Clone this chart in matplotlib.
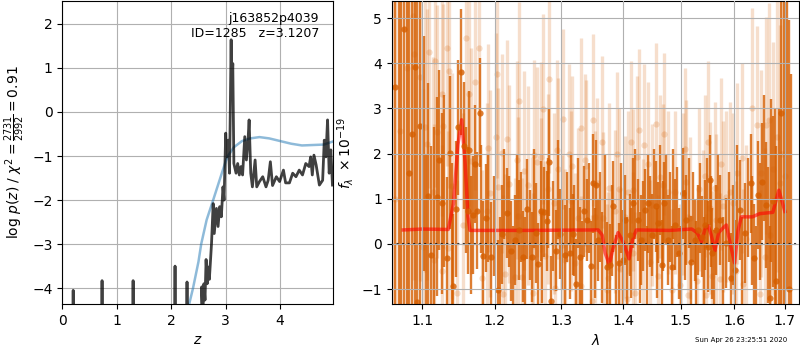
import numpy as np
import matplotlib
matplotlib.use("Agg")
import matplotlib.pyplot as plt

# redshift probability, log p(z)
z_grid = [0.00, 0.19, 0.20, 0.21, 0.72, 0.73, 0.74, 1.29, 1.30, 1.31, 2.06, 2.07, 2.08,
          2.28, 2.29, 2.30, 2.55, 2.56, 2.58, 2.60, 2.62, 2.64, 2.66, 2.68, 2.70, 2.74,
          2.77, 2.79, 2.83, 2.86, 2.89, 2.92, 2.95, 2.97, 3.00, 3.02, 3.05, 3.07, 3.10,
          3.11, 3.13, 3.15, 3.19, 3.22, 3.25, 3.28, 3.31, 3.35, 3.38, 3.41, 3.43, 3.46,
          3.49, 3.54, 3.57, 3.62, 3.68, 3.74, 3.78, 3.82, 3.86, 3.93, 3.99, 4.06, 4.10,
          4.17, 4.23, 4.29, 4.35, 4.41, 4.47, 4.53, 4.56, 4.59, 4.62, 4.66, 4.72, 4.78,
          4.81, 4.84, 4.87, 4.90, 4.93, 4.96]
log_pz = [-8.0, -8.0, -4.05, -8.0, -8.0, -3.83, -8.0, -8.0, -3.83, -8.0, -8.0, -3.50, -8.0,
          -8.0, -3.86, -8.0, -8.0, -3.97, -4.6, -3.90, -4.27, -3.35, -3.90, -3.52, -3.80, -2.98,
          -2.08, -2.76, -2.19, -2.60, -2.15, -2.38, -1.70, -2.00, -0.48, -1.02, -0.64, -1.39, 1.64,
          0.42, 1.10, -1.17, -1.39, -1.17, -1.43, -1.24, -1.43, -0.56, -1.09, -0.64, -0.18, -1.39,
          -1.70, -1.09, -1.70, -1.58, -1.47, -1.70, -1.55, -1.13, -1.67, -1.47, -1.58, -1.32, -1.61,
          -1.61, -1.39, -1.47, -1.32, -1.43, -1.17, -1.24, -1.02, -1.43, -0.98, -1.20, -1.66, -1.55,
          -0.64, -1.02, -0.18, -1.39, -0.86, -1.66]

# scaled chi-squared curve
z_chi2 = [2.20, 2.33, 2.40, 2.50, 2.55, 2.65, 2.77, 2.90, 3.00, 3.04, 3.15, 3.30, 3.45,
          3.62, 3.80, 4.00, 4.20, 4.40, 4.60, 4.80, 4.97]
chi2_scaled = [-5.2, -4.36, -4.00, -3.40, -3.00, -2.45, -2.00, -1.50, -1.12, -1.00, -0.80,
               -0.66, -0.60, -0.57, -0.60, -0.66, -0.72, -0.76, -0.75, -0.74, -0.67]

# spectrum, strong set (points with visible markers)
wave_a = [1.0605, 1.0646, 1.0690, 1.0725, 1.0765, 1.0800, 1.0826, 1.0869, 1.0908, 1.0934,
          1.0970, 1.1072, 1.1111, 1.1192, 1.1227, 1.1259, 1.1327, 1.1372, 1.1417, 1.1458,
          1.1485, 1.1523, 1.1568, 1.1615, 1.1638, 1.1694, 1.1718, 1.1741, 1.1788, 1.1835,
          1.1869, 1.1944, 1.2049, 1.2107, 1.2171, 1.2230, 1.2293, 1.2357, 1.2407, 1.2476,
          1.2551, 1.2607, 1.2642, 1.2683, 1.2728, 1.2770, 1.2810, 1.2836, 1.2913, 1.2975,
          1.3053, 1.3132, 1.3174, 1.3231, 1.3290, 1.3359, 1.3398, 1.3462, 1.3504, 1.3548,
          1.3585, 1.3723, 1.3777, 1.3832, 1.3922, 1.3999, 1.4027, 1.4112, 1.4168, 1.4243,
          1.4311, 1.4380, 1.4425, 1.4484, 1.4559, 1.4599, 1.4659, 1.4705, 1.4776, 1.4836,
          1.4895, 1.4972, 1.5044, 1.5105, 1.5183, 1.5256, 1.5317, 1.5398, 1.5453, 1.5502,
          1.5533, 1.5584, 1.5659, 1.5734, 1.5848, 1.5943, 1.6006, 1.6103, 1.6200, 1.6317,
          1.6382, 1.6460, 1.6548, 1.6613, 1.6693, 1.6759, 1.6828, 1.6929, 1.6990, 1.7040,
          1.7080, 1.7134]
flux_a = [-2.5, 3.47, 6.5, -2.0, 4.75, 6.0, 1.57, 2.43, 3.92, -1.28,
          2.61, 1.06, -0.24, 1.05, 1.86, 0.90, -0.32, 2.02, -0.94, 0.77,
          2.58, 3.81, 2.18, 0.74, 2.08, 0.64, 1.77, 0.74, 2.91, -0.26,
          0.57, -0.28, -1.02, 0.21, 0.68, -0.16, 0.09, 0.31, -0.28, 0.77,
          -0.29, 0.24, -0.44, 0.73, 0.70, 0.51, 1.82, -1.26, -0.15, 0.22,
          -0.24, -0.21, 0.21, -0.89, -0.28, 0.72, 0.53, -0.49, 1.34, 1.31,
          0.09, -0.52, -0.46, 0.83, -0.43, -0.35, 0.53, 0.20, 0.90, 0.53,
          0.09, 0.75, 0.90, 0.20, 0.83, 0.47, -0.46, 0.91, 0.09, -0.50,
          0.43, -0.21, 1.12, 0.53, -0.39, 0.09, 0.31, 0.16, 0.42, -0.06,
          1.41, -0.21, 0.31, 0.53, 0.02, -0.76, -0.58, 0.75, 0.24, 1.34,
          -0.32, 1.09, 1.38, 0.86, -1.20, 0.94, -0.82, 2.91, -2.0, 6.0,
          -1.0, -1.5]
err_a = [8.5, 8.0, 8.5, 8.0, 7.5, 8.0, 7.0, 6.5, 6.0, 7.0,
         5.5, 2.5, 2.4, 2.2, 2.0, 2.0, 1.8, 1.7, 1.6, 1.5,
         1.5, 1.4, 1.4, 1.4, 1.3, 1.3, 1.3, 1.3, 1.2, 1.2,
         1.2, 1.2, 1.1, 1.1, 1.0, 1.1, 1.0, 1.1, 1.0, 1.1,
         1.0, 1.1, 0.9, 1.1, 1.0, 1.1, 1.2, 1.0, 0.9, 1.0,
         1.1, 1.0, 0.9, 1.0, 1.1, 1.0, 0.9, 1.0, 1.1, 1.0,
         0.9, 1.0, 0.9, 1.0, 0.9, 1.1, 1.0, 0.9, 1.0, 0.9,
         1.0, 0.9, 1.1, 0.9, 1.0, 0.9, 1.0, 0.9, 1.0, 0.9,
         1.0, 1.0, 1.0, 1.0, 1.0, 0.9, 1.0, 0.9, 1.0, 1.0,
         1.0, 1.0, 1.0, 1.0, 1.0, 1.0, 1.1, 1.1, 1.1, 1.1,
         1.2, 1.2, 1.3, 1.4, 1.6, 1.9, 3.0, 6.0, 7.5, 7.0,
         5.95, 5.27]

# strong set, bars whose markers are hidden in the crowd
wave_a_fill = [1.1020, 1.1050, 1.1150, 1.1290, 1.1395, 1.1595, 1.1665, 1.1810, 1.1905, 1.1995,
               1.2078, 1.2140, 1.2200, 1.2262, 1.2325, 1.2382, 1.2441, 1.2513, 1.2579, 1.2705,
               1.2790, 1.2875, 1.2944, 1.3014, 1.3092, 1.3153, 1.3202, 1.3260, 1.3325, 1.3430,
               1.3526, 1.3620, 1.3655, 1.3690, 1.3805, 1.3877, 1.3961, 1.4070, 1.4140, 1.4205,
               1.4277, 1.4345, 1.4402, 1.4455, 1.4520, 1.4579, 1.4629, 1.4682, 1.4740, 1.4806,
               1.4866, 1.4933, 1.5008, 1.5075, 1.5144, 1.5220, 1.5287, 1.5357, 1.5426, 1.5478,
               1.5560, 1.5622, 1.5696, 1.5791, 1.5896, 1.5975, 1.6055, 1.6150, 1.6260, 1.6350,
               1.6420, 1.6505, 1.6580, 1.6655, 1.6725, 1.6795, 1.6870]
flux_a_fill = [2.0, -0.5, 0.3, 1.4, 0.1, 1.2, 0.2, 1.0, 0.8, 0.4,
               -0.5, 1.1, 0.5, -0.6, 1.0, 0.6, -0.4, 0.2, 1.0, -0.3,
               0.9, 0.4, 1.2, 0.0, 0.6, 1.0, 0.3, 0.9, -0.5, 0.8,
               -0.2, 0.6, -0.3, 1.0, 0.3, -0.8, 0.8, -0.4, -0.2, 1.1,
               -0.3, 0.4, -0.6, 0.5, 1.1, -0.2, 1.2, 0.4, 1.0, 0.6,
               1.1, 0.7, -0.6, 0.2, 0.9, 0.6, -0.5, 0.8, -0.4, 0.9,
               0.5, -0.7, 1.0, -0.4, 0.6, 0.2, 1.1, -0.5, 0.8, 0.3,
               -0.8, 0.5, 1.9, 0.2, 1.4, 0.5, -1.0]
err_a_fill = [2.6, 2.5, 2.3, 1.9, 1.7, 1.4, 1.3, 1.2, 1.2, 1.1,
              1.1, 1.0, 1.0, 1.0, 1.0, 1.0, 1.0, 1.0, 1.1, 1.0,
              1.0, 1.0, 1.1, 1.0, 1.0, 1.0, 1.0, 1.0, 1.0, 1.0,
              1.0, 1.0, 1.0, 1.0, 1.0, 1.0, 1.0, 1.0, 1.0, 1.0,
              1.0, 1.0, 1.0, 1.0, 1.0, 1.0, 1.0, 1.0, 1.0, 1.0,
              1.0, 1.0, 1.0, 1.0, 1.0, 1.0, 1.0, 1.0, 1.0, 1.0,
              1.0, 1.0, 1.0, 1.0, 1.0, 1.1, 1.1, 1.1, 1.1, 1.2,
              1.2, 1.3, 1.4, 1.5, 1.8, 2.5, 4.0]

# spectrum, faint set
wave_b = [1.0640, 1.0710, 1.0796, 1.0874, 1.0891, 1.0970, 1.1013, 1.1040, 1.1066, 1.1093,
          1.1146, 1.1159, 1.1173, 1.1192, 1.1259, 1.1267, 1.1280, 1.1327, 1.1340, 1.1362,
          1.1395, 1.1463, 1.1554, 1.1592, 1.1629, 1.1662, 1.1718, 1.1778, 1.1812, 1.1883,
          1.1906, 1.1930, 1.2012, 1.2026, 1.2049, 1.2107, 1.2121, 1.2147, 1.2171, 1.2205,
          1.2293, 1.2318, 1.2342, 1.2357, 1.2401, 1.2431, 1.2491, 1.2542, 1.2556, 1.2581,
          1.2617, 1.2678, 1.2692, 1.2718, 1.2744, 1.2794, 1.2810, 1.2887, 1.2901, 1.2924,
          1.2949, 1.3002, 1.3027, 1.3053, 1.3116, 1.3148, 1.3158, 1.3211, 1.3263, 1.3301,
          1.3315, 1.3370, 1.3382, 1.3478, 1.3509, 1.3531, 1.3559, 1.3650, 1.3667, 1.3723,
          1.3749, 1.3765, 1.3860, 1.3888, 1.3932, 1.3943, 1.4027, 1.4056, 1.4073, 1.4124,
          1.4158, 1.4170, 1.4197, 1.4226, 1.4270, 1.4339, 1.4356, 1.4415, 1.4455, 1.4484,
          1.4571, 1.4599, 1.4629, 1.4677, 1.4699, 1.4770, 1.4836, 1.4895, 1.4984, 1.5044,
          1.5074, 1.5105, 1.5134, 1.5165, 1.5306, 1.5335, 1.5409, 1.5441, 1.5472, 1.5502,
          1.5546, 1.5584, 1.5627, 1.5659, 1.5721, 1.5735, 1.5783, 1.5835, 1.5911, 1.5974,
          1.6026, 1.6058, 1.6155, 1.6168, 1.6233, 1.6342, 1.6441, 1.6494, 1.6528, 1.6593,
          1.6613, 1.6679, 1.6693, 1.6759, 1.6840, 1.6895, 1.6950, 1.7000]
flux_b = [1.0, 2.5, 3.89, 5.04, 4.20, 3.69, -0.06, 2.58, 2.21, 4.24,
          1.14, -0.35, 4.05, 2.49, -0.61, 3.31, 2.61, 4.33, -0.10, 3.83,
          1.28, -1.08, 0.41, 4.56, 3.33, 1.84, 3.59, 4.34, -0.76, 0.72,
          2.12, 1.12, 2.37, 3.76, 1.25, 2.01, -1.11, -0.66, 2.32, 1.33,
          -0.74, 1.86, 0.62, 3.16, -0.74, 1.62, 1.30, -0.28, -1.08, 1.98,
          1.81, 1.93, 0.68, 2.99, -0.26, 1.21, 3.66, 0.90, -0.98, 2.08,
          1.67, -0.02, 2.77, -0.35, 1.99, 0.95, 1.73, -0.43, 0.57, 2.56,
          -0.94, 1.86, 1.73, -1.26, 2.74, 0.60, 1.34, 2.26, 0.57, -1.02,
          -0.76, 1.23, 0.72, 2.00, 1.21, -0.56, 0.60, -1.22, 1.14, 2.26,
          1.19, -0.21, -1.09, 1.93, 2.52, 0.09, 2.19, 1.78, -0.39, 0.86,
          2.65, -0.72, 1.49, 1.30, 2.43, 1.14, -1.02, 1.14, -0.91, 1.11,
          2.10, 1.38, -1.13, 0.57, -0.83, 1.21, 0.27, 1.50, -1.13, 2.26,
          0.79, -0.72, 1.24, 0.53, -0.78, 1.77, 0.83, 1.05, 1.15, 0.90,
          -0.61, 1.56, 1.90, -0.88, 0.10, 3.02, 2.63, -1.11, 1.56, -0.28,
          2.63, 2.74, 0.20, 1.67, 2.37, 1.34, 2.0, 1.5]
err_b = [6.0, 6.0, 5.5, 5.0, 5.0, 4.5, 3.5, 3.2, 3.0, 3.0,
         3.0, 3.0, 2.8, 2.8, 2.8, 2.7, 2.7, 2.6, 2.6, 2.6,
         2.5, 2.5, 2.5, 2.5, 2.5, 2.5, 2.4, 2.4, 2.4, 2.4,
         2.3, 2.3, 2.3, 2.3, 2.2, 2.2, 2.2, 2.2, 2.2, 2.2,
         2.2, 2.2, 2.2, 2.2, 2.2, 2.2, 2.2, 2.2, 2.2, 2.1,
         2.1, 2.1, 2.1, 2.1, 2.1, 2.1, 2.1, 2.0, 2.0, 2.0,
         2.0, 2.0, 2.0, 2.0, 2.0, 2.0, 2.0, 2.0, 2.0, 2.0,
         2.0, 1.9, 1.9, 1.9, 1.9, 1.9, 1.9, 1.9, 1.9, 1.9,
         1.9, 1.9, 1.8, 1.8, 1.8, 1.8, 1.8, 1.8, 1.8, 1.8,
         1.8, 1.8, 1.8, 1.8, 1.8, 1.8, 1.8, 1.8, 1.8, 1.8,
         1.8, 1.8, 1.8, 1.8, 1.8, 1.8, 1.8, 1.8, 1.8, 1.8,
         1.8, 1.8, 1.8, 1.8, 1.8, 1.8, 1.8, 1.8, 1.8, 1.8,
         1.9, 1.9, 1.9, 1.9, 1.9, 1.9, 1.9, 1.9, 2.0, 2.0,
         2.0, 2.0, 2.1, 2.1, 2.1, 2.2, 2.2, 2.3, 2.3, 2.4,
         2.4, 2.6, 2.6, 2.8, 3.0, 3.5, 4.5, 5.0]

# best-fit model
wave_model = [1.0752, 1.1000, 1.1348, 1.1420, 1.1480, 1.1532, 1.1580, 1.1620, 1.1648, 1.2500,
              1.3587, 1.3650, 1.3700, 1.3768, 1.3830, 1.3914, 1.4000, 1.4099, 1.4160, 1.4223,
              1.4800, 1.5200, 1.5300, 1.5381, 1.5450, 1.5505, 1.5560, 1.5630, 1.5700, 1.5780,
              1.5846, 1.5920, 1.6004, 1.6070, 1.6133, 1.6350, 1.6490, 1.6755, 1.6877, 1.7000]
flux_model = [0.31, 0.33, 0.32, 0.90, 2.20, 2.75, 1.80, 0.60, 0.30, 0.30,
              0.31, 0.20, -0.20, -0.46, -0.10, 0.25, 0.05, -0.33, 0.10, 0.31,
              0.30, 0.33, 0.25, 0.05, 0.35, 0.40, 0.20, -0.15, 0.25, 0.35,
              0.42, 0.00, -0.42, 0.30, 0.60, 0.60, 0.67, 0.70, 1.19, 0.72]

wave_ticks = [1.1, 1.2, 1.3, 1.4, 1.5, 1.6, 1.7]
grism_color = (0.8352941176470589, 0.3686274509803922, 0.0)

fig = plt.figure(figsize=(8, 3.5), dpi=100)
ax1 = fig.add_axes([62.3 / 800, 46 / 350, 270.7 / 800, 303 / 350])
ax2 = fig.add_axes([391.7 / 800, 46 / 350, 407.3 / 800, 303 / 350])

# p(z)
ax1.plot(z_chi2, chi2_scaled, color='tab:blue', alpha=0.5, lw=1.8)
ax1.plot(z_grid, log_pz, color='k', alpha=0.75, lw=2)
ax1.set_xlim(0, 4.97)
ax1.set_ylim(-4.36, 2.52)
ax1.set_xticks([0, 1, 2, 3, 4])
ax1.set_yticks([-4, -3, -2, -1, 0, 1, 2])
ax1.set_xlabel('$z$')
ax1.set_ylabel(r'log $p(z)$ / $\chi^2=\frac{2731}{2992}=0.91$')
ax1.text(0.948, 0.965, 'j163852p4039\nID=1285   z=3.1207', transform=ax1.transAxes,
         ha='right', va='top', multialignment='right', fontsize=9)
ax1.grid()

# spectrum
ax2.errorbar(wave_b, flux_b, err_b, fmt='o', color=grism_color, alpha=0.2,
             ms=4.5, elinewidth=2.4, capsize=0, mew=0)
ax2.errorbar(wave_a_fill, flux_a_fill, err_a_fill, fmt='none', ecolor=grism_color,
             alpha=0.8, elinewidth=1.7, capsize=0)
ax2.errorbar(wave_a, flux_a, err_a, fmt='o', color=grism_color, alpha=0.8,
             ms=4.5, elinewidth=1.7, capsize=0, mew=0)
ax2.plot(wave_model, flux_model, color='r', alpha=0.6, lw=2.5)
ax2.plot([1.06, 1.729], [0, 0], color='k', linestyle=':', lw=1.5, alpha=0.8)
ax2.set_xscale('log')
ax2.set_xlim(1.0603, 1.729)
ax2.set_ylim(-1.33, 5.38)
ax2.set_xticks(wave_ticks)
ax2.set_xticklabels(['%.1f' % w for w in wave_ticks])
ax2.xaxis.set_minor_locator(matplotlib.ticker.NullLocator())
ax2.set_yticks([-1, 0, 1, 2, 3, 4, 5])
ax2.set_xlabel(r'$\lambda$')
ax2.set_ylabel(r'$f_\lambda\ \times 10^{-19}$')
ax2.set_axisbelow(False)
ax2.grid()

fig.text(0.984, 0.029, 'Sun Apr 26 23:25:51 2020', ha='right', va='center', fontsize=5)

fig.savefig('out.png', dpi=100)
